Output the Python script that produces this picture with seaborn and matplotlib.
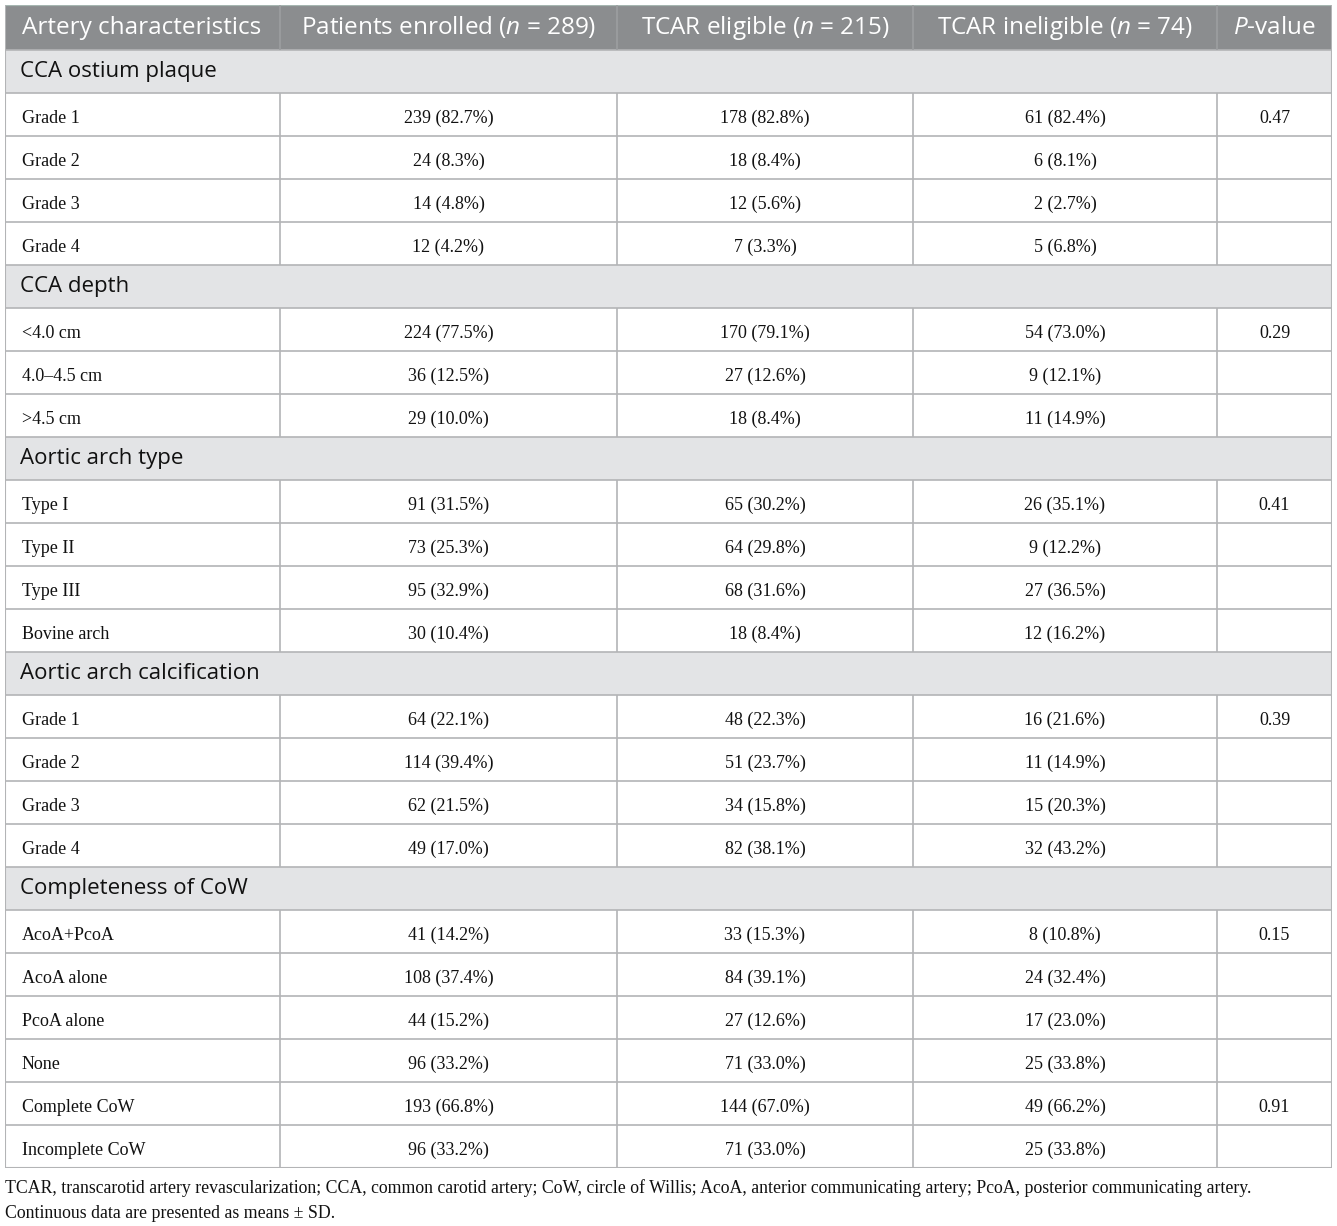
import numpy as np
import matplotlib
matplotlib.use("Agg")
from matplotlib import pyplot as plt
from matplotlib.colors import ListedColormap
import seaborn as sns

# table content
headers = ["Artery characteristics", "Patients enrolled ($n$ = 289)",
           "TCAR eligible ($n$ = 215)", "TCAR ineligible ($n$ = 74)", "$P$-value"]

sections = ["CCA ostium plaque", "CCA depth", "Aortic arch type",
            "Aortic arch calcification", "Completeness of CoW"]

labels = [
    ["Grade 1", "Grade 2", "Grade 3", "Grade 4"],
    ["<4.0 cm", "4.0\u20134.5 cm", ">4.5 cm"],
    ["Type I", "Type II", "Type III", "Bovine arch"],
    ["Grade 1", "Grade 2", "Grade 3", "Grade 4"],
    ["AcoA+PcoA", "AcoA alone", "PcoA alone", "None", "Complete CoW", "Incomplete CoW"],
]
enrolled = [
    ["239 (82.7%)", "24 (8.3%)", "14 (4.8%)", "12 (4.2%)"],
    ["224 (77.5%)", "36 (12.5%)", "29 (10.0%)"],
    ["91 (31.5%)", "73 (25.3%)", "95 (32.9%)", "30 (10.4%)"],
    ["64 (22.1%)", "114 (39.4%)", "62 (21.5%)", "49 (17.0%)"],
    ["41 (14.2%)", "108 (37.4%)", "44 (15.2%)", "96 (33.2%)", "193 (66.8%)", "96 (33.2%)"],
]
eligible = [
    ["178 (82.8%)", "18 (8.4%)", "12 (5.6%)", "7 (3.3%)"],
    ["170 (79.1%)", "27 (12.6%)", "18 (8.4%)"],
    ["65 (30.2%)", "64 (29.8%)", "68 (31.6%)", "18 (8.4%)"],
    ["48 (22.3%)", "51 (23.7%)", "34 (15.8%)", "82 (38.1%)"],
    ["33 (15.3%)", "84 (39.1%)", "27 (12.6%)", "71 (33.0%)", "144 (67.0%)", "71 (33.0%)"],
]
ineligible = [
    ["61 (82.4%)", "6 (8.1%)", "2 (2.7%)", "5 (6.8%)"],
    ["54 (73.0%)", "9 (12.1%)", "11 (14.9%)"],
    ["26 (35.1%)", "9 (12.2%)", "27 (36.5%)", "12 (16.2%)"],
    ["16 (21.6%)", "11 (14.9%)", "15 (20.3%)", "32 (43.2%)"],
    ["8 (10.8%)", "24 (32.4%)", "17 (23.0%)", "25 (33.8%)", "49 (66.2%)", "25 (33.8%)"],
]
pvalues = [
    ["0.47", "", "", ""],
    ["0.29", "", ""],
    ["0.41", "", "", ""],
    ["0.39", "", "", ""],
    ["0.15", "", "", "", "0.91", ""],
]

footnote = ["TCAR, transcarotid artery revascularization; CCA, common carotid artery; CoW, circle of Willis; "
            "AcoA, anterior communicating artery; PcoA, posterior communicating artery.",
            "Continuous data are presented as means \u00b1 SD."]

# body rows: kind 1 section, 2 data (header drawn separately above)
rows = []
for s, lab, a, b, c, p in zip(sections, labels, enrolled, eligible, ineligible, pvalues):
    rows.append((1, [s]))
    for r in zip(lab, a, b, c, p):
        rows.append((2, list(r)))
kinds = np.array([k for k, _ in rows])[:, None]

sns.set_theme(style="white")
plt.rcParams["mathtext.fontset"] = "custom"
plt.rcParams["mathtext.rm"] = "Open Sans"
plt.rcParams["mathtext.it"] = "Open Sans:italic"

W, H = 1337, 1226
fig = plt.figure(figsize=(W / 100, H / 100), dpi=100)
left, right, top, bottom = 5, 1332, 5, 1168
ax = fig.add_axes([left / W, 1 - bottom / H, (right - left) / W, (bottom - top) / H])

cmap = ListedColormap(["#8b8d8f", "#e3e4e6", "#ffffff"])
sns.heatmap(kinds, cmap=cmap, vmin=-0.5, vmax=2.5, cbar=False, ax=ax,
            xticklabels=False, yticklabels=False)
for sp in ax.spines.values():
    sp.set_visible(False)

nrow = len(rows)
hh = 45 / 43  # header height in body-row units
ax.set_ylim(nrow, -hh)
ax.set_xlim(0, 1)
ax.axhspan(-hh, 0, color="#8b8d8f", lw=0)

col_px = [5, 280, 617, 913, 1217, 1332]
col_x = [(p - left) / (right - left) for p in col_px]
line_c = "#b3b4b6"
x_lab = (22 - left) / (right - left)

# rules and borders
ax.hlines(np.arange(1, nrow), 0, 1, colors=line_c, lw=1.2)
ax.hlines(0, 0, 1, colors=line_c, lw=1.2)
ax.hlines(nrow, 0, 1, colors=line_c, lw=1.5)
ax.hlines(-hh, 0, 1, colors="#a6b6b1", lw=1.6)
ax.vlines([0, 1], -hh, nrow, colors=line_c, lw=1.5)

# header
ax.vlines(col_x[1:-1], -hh, 0, colors="#9d9fa1", lw=1.2)
for j, t in enumerate(headers):
    xj = x_lab if j == 0 else (col_x[j] + col_x[j + 1]) / 2
    ax.text(xj, -hh / 2, t, ha="left" if j == 0 else "center", va="center",
            color="white", fontsize=17.5, family="Open Sans")

for i, (k, cells) in enumerate(rows):
    yc = i + 0.5
    if k == 1:
        ax.text((20 - left) / (right - left), yc, cells[0], ha="left", va="center",
                color="#111111", fontsize=16, family="Open Sans")
    else:
        ax.vlines(col_x[1:-1], i, i + 1, colors=line_c, lw=1.2)
        for j, t in enumerate(cells):
            xj = x_lab if j == 0 else (col_x[j] + col_x[j + 1]) / 2
            ax.text(xj, yc + 0.1, t, ha="left" if j == 0 else "center", va="center",
                    color="#111111", fontsize=13, family="Liberation Serif")

fig.text(5 / W, 1 - 1188 / H, footnote[0], ha="left", va="center",
         fontsize=12.8, family="Liberation Serif", color="#111111")
fig.text(5 / W, 1 - 1213 / H, footnote[1], ha="left", va="center",
         fontsize=12.8, family="Liberation Serif", color="#111111")

fig.savefig("out.png", dpi=100)
